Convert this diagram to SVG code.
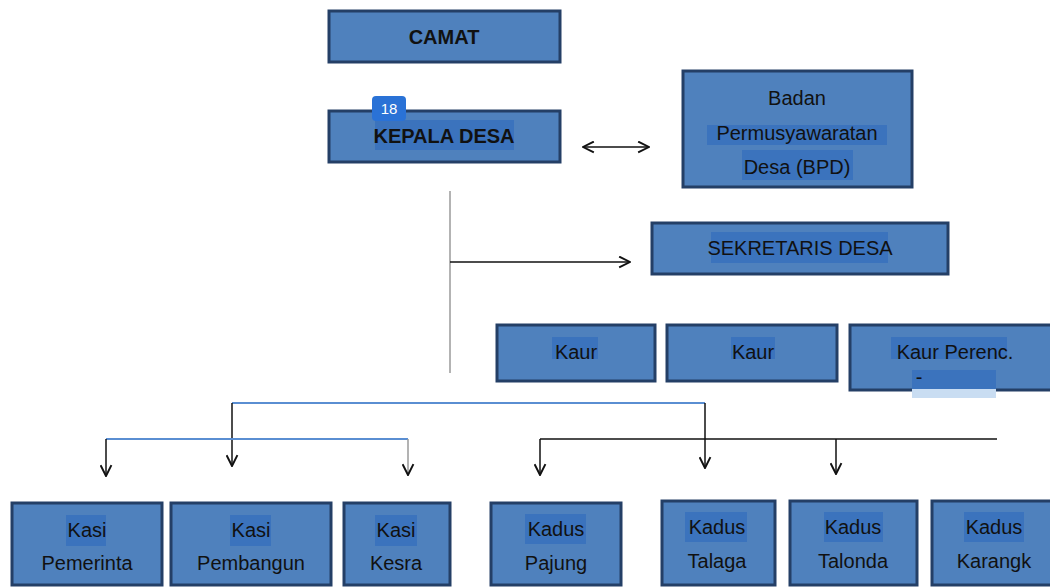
<svg xmlns="http://www.w3.org/2000/svg" width="1050" height="587" viewBox="0 0 1050 587">
  <style>
    .box { fill: #4f81bd; stroke: #243f66; stroke-width: 3; }
    .hl { fill: #3b73bd; }
    .txt { font-family: "Liberation Sans", Arial, sans-serif; font-size: 20px; fill: #111; text-anchor: middle; }
    .bold { font-weight: bold; }
    .wire { fill: none; stroke: #111; stroke-width: 1.5; }
    .blue { fill: none; stroke: #5a8ed2; stroke-width: 2; }
    .grey { fill: none; stroke: #9a9a9a; stroke-width: 1.5; }
  </style>
  <defs>
    <marker id="open" viewBox="0 0 12 12" refX="11" refY="6" markerWidth="13" markerHeight="13" markerUnits="userSpaceOnUse" orient="auto-start-reverse">
      <path d="M1 1 L11 6 L1 11" fill="none" stroke="#111" stroke-width="1.8"/>
    </marker>
  </defs>
  <rect width="1050" height="587" fill="#fff"/>

  <g id="camat">
    <rect class="box" x="329" y="11" width="231" height="51"/>
    <text class="txt bold" x="444" y="44">CAMAT</text>
  </g>

  <g id="kepala-desa">
    <rect class="box" x="329" y="111" width="231" height="51"/>
    <rect class="hl" x="375" y="120" width="139" height="30"/>
    <text class="txt bold" x="444" y="143">KEPALA DESA</text>
    <rect x="372" y="96" width="34" height="25" rx="4" fill="#2a72d6"/>
    <text x="389" y="114" font-family="Liberation Sans, Arial, sans-serif" font-size="15" fill="#fff" text-anchor="middle">18</text>
  </g>

  <g id="bpd">
    <rect class="box" x="683" y="71" width="229" height="116"/>
    <rect class="hl" x="707" y="125" width="180" height="20"/>
    <rect class="hl" x="742" y="150" width="111" height="30"/>
    <text class="txt" x="797" y="105">Badan</text>
    <text class="txt" x="797" y="140">Permusyawaratan</text>
    <text class="txt" x="797" y="174">Desa (BPD)</text>
  </g>

  <g id="sekretaris-desa">
    <rect class="box" x="652" y="223" width="296" height="51"/>
    <rect class="hl" x="711" y="232" width="177" height="31"/>
    <text class="txt" x="800" y="255">SEKRETARIS DESA</text>
  </g>

  <g id="kaur-1">
    <rect class="box" x="497" y="325" width="158" height="56"/>
    <rect class="hl" x="552" y="337" width="46" height="22"/>
    <text class="txt" x="576" y="359">Kaur</text>
  </g>
  <g id="kaur-2">
    <rect class="box" x="667" y="325" width="170" height="56"/>
    <rect class="hl" x="731" y="337" width="44" height="22"/>
    <text class="txt" x="753" y="359">Kaur</text>
  </g>
  <g id="kaur-perenc">
    <rect class="box" x="850" y="325" width="210" height="65"/>
    <rect class="hl" x="891" y="337" width="116" height="22"/>
    <rect x="912" y="370" width="84" height="28" fill="#c9ddf2"/>
    <rect class="hl" x="912" y="370" width="84" height="19"/>
    <text class="txt" x="955" y="359">Kaur Perenc.</text>
    <text class="txt" x="919" y="384" font-size="14">-</text>
  </g>

  <g id="kasi-pemerintahan">
    <rect class="box" x="12" y="503" width="150" height="82"/>
    <rect class="hl" x="66" y="515" width="40" height="31"/>
    <text class="txt" x="87" y="537">Kasi</text>
    <text class="txt" x="87" y="570">Pemerinta</text>
  </g>
  <g id="kasi-pembangunan">
    <rect class="box" x="171" y="503" width="160" height="82"/>
    <rect class="hl" x="230" y="515" width="41" height="31"/>
    <text class="txt" x="251" y="537">Kasi</text>
    <text class="txt" x="251" y="570">Pembangun</text>
  </g>
  <g id="kasi-kesra">
    <rect class="box" x="344" y="503" width="106" height="82"/>
    <rect class="hl" x="375" y="515" width="42" height="31"/>
    <text class="txt" x="396" y="537">Kasi</text>
    <text class="txt" x="396" y="570">Kesra</text>
  </g>
  <g id="kadus-pajung">
    <rect class="box" x="491" y="503" width="130" height="82"/>
    <rect class="hl" x="525" y="514" width="61" height="30"/>
    <text class="txt" x="556" y="536">Kadus</text>
    <text class="txt" x="556" y="570">Pajung</text>
  </g>
  <g id="kadus-talaga">
    <rect class="box" x="662" y="501" width="113" height="84"/>
    <rect class="hl" x="685" y="512" width="62" height="30"/>
    <text class="txt" x="717" y="534">Kadus</text>
    <text class="txt" x="717" y="568">Talaga</text>
  </g>
  <g id="kadus-talonda">
    <rect class="box" x="790" y="501" width="127" height="84"/>
    <rect class="hl" x="824" y="512" width="59" height="30"/>
    <text class="txt" x="853" y="534">Kadus</text>
    <text class="txt" x="853" y="568">Talonda</text>
  </g>
  <g id="kadus-karangk">
    <rect class="box" x="932" y="501" width="130" height="84"/>
    <rect class="hl" x="964" y="512" width="60" height="30"/>
    <text class="txt" x="994" y="534">Kadus</text>
    <text class="txt" x="994" y="568">Karangk</text>
  </g>

  <g id="connectors">
    <!-- Kepala Desa <-> BPD -->
    <line class="wire" x1="583" y1="147" x2="649" y2="147" marker-start="url(#open)" marker-end="url(#open)"/>
    <!-- main trunk and branch to Sekretaris -->
    <line class="grey" x1="450" y1="191" x2="450" y2="373"/>
    <line class="wire" x1="450" y1="262" x2="630" y2="262" stroke-width="1.2" marker-end="url(#open)"/>
    <!-- upper distribution bar -->
    <line class="blue" x1="232" y1="403" x2="705" y2="403"/>
    <line class="wire" x1="232" y1="403" x2="232" y2="466" marker-end="url(#open)"/>
    <line class="wire" x1="705" y1="403" x2="705" y2="468" marker-end="url(#open)"/>
    <!-- Kasi bar -->
    <line class="blue" x1="106" y1="439" x2="408" y2="439"/>
    <line class="wire" x1="106" y1="439" x2="106" y2="476" stroke-width="2.5" marker-end="url(#open)"/>
    <line class="grey" x1="408" y1="439" x2="408" y2="475" marker-end="url(#open)"/>
    <!-- Kadus bar -->
    <line class="wire" x1="540" y1="439" x2="997" y2="439" stroke-width="1.2"/>
    <line class="wire" x1="540" y1="439" x2="540" y2="475" stroke-width="1.2" marker-end="url(#open)"/>
    <line class="wire" x1="836" y1="439" x2="836" y2="474" stroke-width="1.2" marker-end="url(#open)"/>
  </g>
</svg>
